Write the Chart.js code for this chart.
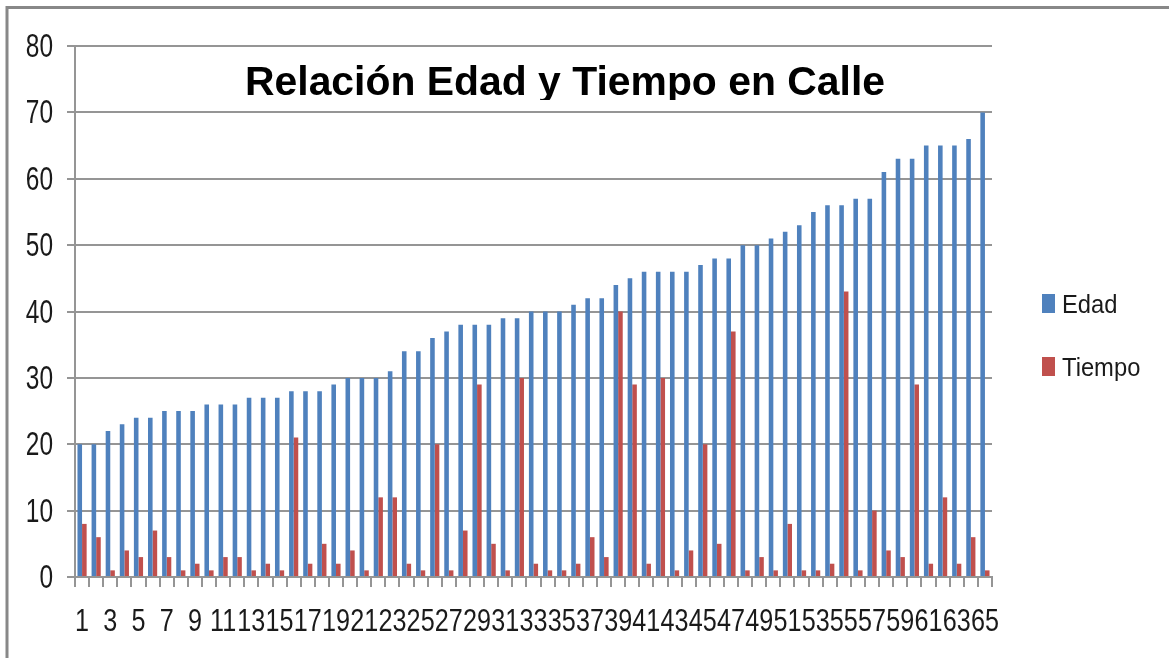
<!DOCTYPE html>
<html>
<head>
<meta charset="utf-8">
<script src="https://cdn.jsdelivr.net/npm/chart.js@4.4.1/dist/chart.umd.min.js"></script>
<style>
  html, body { margin: 0; padding: 0; background: #fff; }
  #wrap { width: 1169px; height: 658px; position: relative; }
</style>
</head>
<body>
<div id="wrap"><canvas id="c" width="1169" height="658"></canvas></div>
<script>
// --- data ---
const categories = ['1','2','3','4','5','6','7','8','9','10','11','12','13','14','15','16','17','18','19','20',
  '21','22','23','24','25','26','27','28','29','30','31','32','33','34','35','36','37','38','39','40',
  '41','42','43','44','45','46','47','48','49','50','51','52','53','54','55','56','57','58','59','60',
  '61','62','63','64','65'];

const edad = [20, 20, 22, 23, 24, 24, 25, 25, 25, 26, 26, 26, 27, 27, 27, 28, 28, 28, 29, 30,
  30, 30, 31, 34, 34, 36, 37, 38, 38, 38, 39, 39, 40, 40, 40, 41, 42, 42, 44, 45,
  46, 46, 46, 46, 47, 48, 48, 50, 50, 51, 52, 53, 55, 56, 56, 57, 57, 61, 63, 63,
  65, 65, 65, 66, 70];

const tiempo = [8, 6, 1, 4, 3, 7, 3, 1, 2, 1, 3, 3, 1, 2, 1, 21, 2, 5, 2, 4,
  1, 12, 12, 2, 1, 20, 1, 7, 29, 5, 1, 30, 2, 1, 1, 2, 6, 3, 40, 29,
  2, 30, 1, 4, 20, 5, 37, 1, 3, 1, 8, 1, 1, 2, 43, 1, 10, 4, 3, 29,
  2, 12, 2, 6, 1];

const seriesNames = ['Edad', 'Tiempo'];
const yTicks = [0, 10, 20, 30, 40, 50, 60, 70, 80];
const chartTitle = 'Relación Edad y Tiempo en Calle';

const BLUE = '#4F81BD';
const RED = '#C0504D';
const GRID = '#959595';
const TEXT = '#1a1a1a';
const FONT = '"Liberation Sans", Arial, sans-serif';

// the original text is tall and narrow, so draw it stretched
function stretchedText(ctx, text, x, y, size, sx, sy, align, bold) {
  ctx.save();
  ctx.font = (bold ? 'bold ' : '') + size + 'px ' + FONT;
  ctx.textAlign = align;
  ctx.textBaseline = 'alphabetic';
  ctx.translate(x, y);
  ctx.scale(sx, sy);
  ctx.fillText(text, 0, 0);
  ctx.restore();
}

// frame lines (top and left edge of the original picture)
const framePlugin = {
  id: 'frame',
  afterDraw(chart) {
    const ctx = chart.ctx;
    ctx.save();
    ctx.strokeStyle = '#888';
    ctx.lineWidth = 3;
    ctx.beginPath();
    ctx.moveTo(6, 7.5);
    ctx.lineTo(chart.width, 7.5);
    ctx.moveTo(7, 6);
    ctx.lineTo(7, chart.height);
    ctx.stroke();
    ctx.restore();
  }
};

// tick labels, placed through the chart's scales
const tickLabelPlugin = {
  id: 'tickLabels',
  afterDraw(chart) {
    const ctx = chart.ctx;
    const xs = chart.scales.x, ys = chart.scales.y;
    ctx.save();
    ctx.fillStyle = TEXT;
    categories.forEach((c, i) => {
      if (i % 2 !== 0) return;
      stretchedText(ctx, c, xs.getPixelForValue(i), xs.top + 54, 24, 1.05, 1.28, 'center');
    });
    yTicks.forEach(v => {
      stretchedText(ctx, String(v), ys.right - 22, ys.getPixelForValue(v) + 11, 24, 1.02, 1.35, 'right');
    });
    ctx.restore();
  }
};

// title sits inside the plot and is cut off at the bottom
const titlePlugin = {
  id: 'insideTitle',
  afterDraw(chart) {
    const ctx = chart.ctx;
    const size = 40;
    ctx.save();
    ctx.beginPath();
    ctx.rect(0, 0, chart.width, 100);
    ctx.clip();
    ctx.font = 'bold ' + size + 'px ' + FONT;
    const w = ctx.measureText(chartTitle).width;
    ctx.fillStyle = '#000';
    stretchedText(ctx, chartTitle, 245, 95, size, 640 / w, 29 / (0.716 * size), 'left', true);
    ctx.restore();
  }
};

// legend on the right, drawn from the datasets
const legendPlugin = {
  id: 'sideLegend',
  afterDraw(chart) {
    const ctx = chart.ctx;
    const x = chart.chartArea.right + 50;
    let y = 294;
    ctx.save();
    chart.data.datasets.forEach(ds => {
      ctx.fillStyle = ds.backgroundColor;
      ctx.fillRect(x, y, 13, 19);
      ctx.fillStyle = TEXT;
      stretchedText(ctx, ds.label, x + 20, y + 19, 22, 1.08, 1.2, 'left');
      y += 63;
    });
    ctx.restore();
  }
};

new Chart(document.getElementById('c'), {
  type: 'bar',
  data: {
    labels: categories,
    datasets: [
      { label: seriesNames[0], data: edad, backgroundColor: BLUE },
      { label: seriesNames[1], data: tiempo, backgroundColor: RED }
    ]
  },
  options: {
    responsive: false,
    animation: false,
    devicePixelRatio: 1,
    categoryPercentage: 0.65,
    barPercentage: 1.0,
    layout: { padding: { left: 0, top: 46, right: 177, bottom: 0 } },
    plugins: {
      legend: { display: false },
      title: { display: false },
      tooltip: { enabled: false }
    },
    scales: {
      x: {
        afterFit(scale) { scale.height = 81; },
        grid: { drawOnChartArea: false, drawTicks: true, tickLength: 10, color: GRID, lineWidth: 2, offset: true },
        border: { color: GRID, width: 2 },
        ticks: { display: false, autoSkip: false }
      },
      y: {
        min: yTicks[0],
        max: yTicks[yTicks.length - 1],
        afterFit(scale) { scale.width = 75; },
        afterBuildTicks(scale) { scale.ticks = yTicks.map(v => ({ value: v })); },
        grid: { color: GRID, lineWidth: 2, tickLength: 8 },
        border: { color: GRID, width: 2 },
        ticks: { display: false }
      }
    }
  },
  plugins: [framePlugin, tickLabelPlugin, titlePlugin, legendPlugin]
});
</script>
</body>
</html>
